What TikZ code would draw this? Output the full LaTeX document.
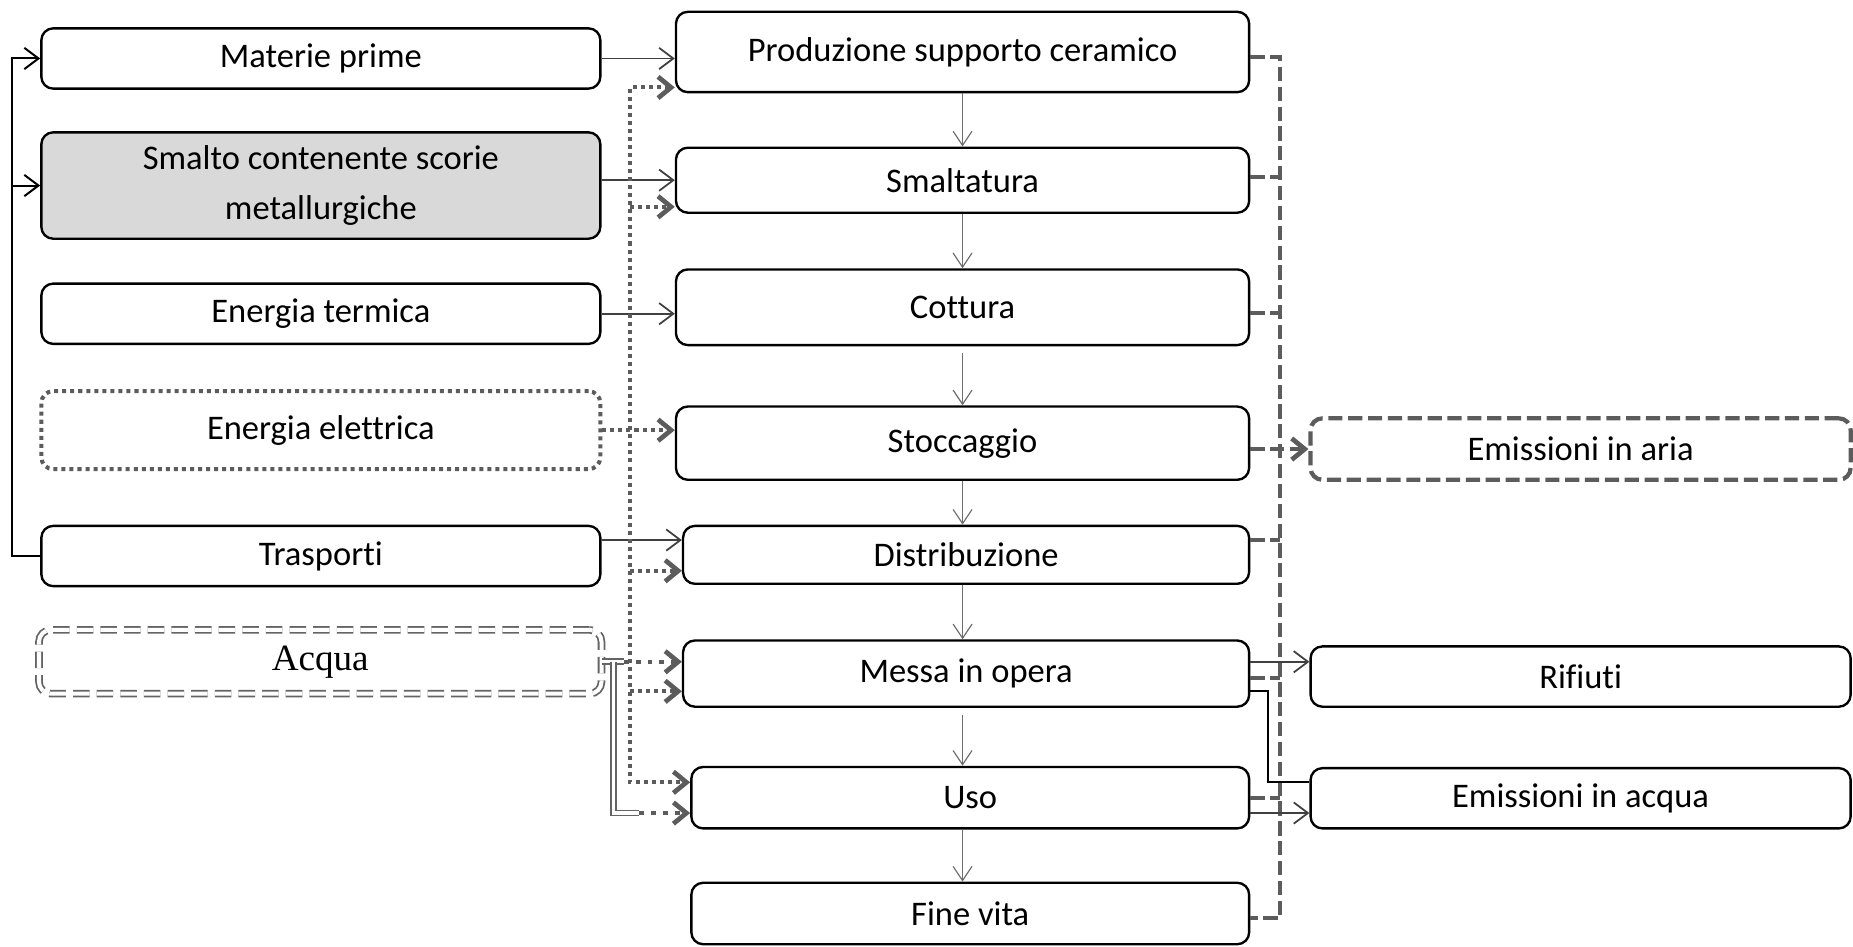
\documentclass[tikz,border=0pt]{standalone}
\usepackage{fontspec}
\setmainfont{Carlito}[Ligatures={NoCommon}]
\newfontfamily\serifacq{Liberation Serif}
\usetikzlibrary{arrows.meta}
\definecolor{lnG}{RGB}{92,92,92}
\definecolor{arG}{RGB}{64,64,64}
\definecolor{vaG}{RGB}{110,110,110}
\definecolor{fillG}{RGB}{217,217,217}
\definecolor{dbG}{RGB}{100,100,100}
\tikzset{
 box/.style={draw=black, line width=1pt, rounded corners=5pt, inner sep=0pt, align=center, font=\fontsize{14.6}{21}\selectfont},
 dotbox/.style={box, draw=lnG, line width=1.7pt, dash pattern=on 1.7pt off 1.7pt},
 dashbox/.style={box, draw=lnG, line width=1.8pt, dash pattern=on 6pt off 2.4pt},
 dblbox/.style={box, draw=dbG, line width=0.75pt, double=white, double distance=1.7pt, dash pattern=on 7pt off 3pt, font=\serifacq\fontsize{15.7}{19}\selectfont},
 thinarr/.style={draw=arG, line width=0.75pt, -{Straight Barb[length=6pt,width=9pt]}},
 bracket/.style={draw=black, line width=0.85pt},
 varr/.style={draw=vaG, line width=0.5pt, -{Straight Barb[length=6pt,width=8pt]}},
 thicktip/.style={>={Straight Barb[length=5.5pt,width=9pt,line width=2pt]}, ->},
 dotln/.style={draw=lnG, line width=1.7pt, dash pattern=on 1.7pt off 1.7pt},
 dashln/.style={draw=lnG, line width=1.8pt, dash pattern=on 6pt off 2.4pt},
 dblln/.style={draw=dbG, line width=0.75pt, double=white, double distance=1.4pt},
 acqtip/.style={draw=lnG, line width=1.6pt, dash pattern=on 2pt off 3pt, thicktip},
}
\begin{document}
\begin{tikzpicture}[x=0.5pt, y=-0.5pt]
\useasboundingbox (0,0) rectangle (1568,801);
% left column
\node[box, minimum width=236.5pt, minimum height=25.5pt] (mp) at (271.5,49.5) {Materie prime};
\node[box, fill=fillG, minimum width=236.5pt, minimum height=45pt] (sm) at (271.5,157) {Smalto contenente scorie\\metallurgiche};
\node[box, minimum width=236.5pt, minimum height=25.5pt] (et) at (271.5,265.5) {Energia termica};
\node[dotbox, minimum width=236.5pt, minimum height=33pt] (ee) at (271.5,364) {Energia elettrica};
\node[box, minimum width=236.5pt, minimum height=25.5pt] (tr) at (271.5,470.5) {Trasporti};
\node[dblbox, minimum width=238pt, minimum height=27pt] (acq) at (271,560) {Acqua};
% center column
\node[box, minimum width=242.5pt, minimum height=34pt] (prod) at (814.5,44) {Produzione supporto ceramico};
\node[box, minimum width=242.5pt, minimum height=27.5pt] (smal) at (814.5,152.5) {Smaltatura};
\node[box, minimum width=242.5pt, minimum height=32pt] (cott) at (814.5,260) {Cottura};
\node[box, minimum width=242.5pt, minimum height=31pt] (stoc) at (814.5,375) {Stoccaggio};
\node[box, minimum width=239.5pt, minimum height=24.5pt] (dist) at (817.5,469.5) {Distribuzione};
\node[box, minimum width=239.5pt, minimum height=28pt] (mess) at (817.5,570) {Messa in opera};
\node[box, minimum width=236pt, minimum height=26pt] (uso) at (821,675) {Uso};
\node[box, minimum width=236pt, minimum height=26pt] (fine) at (821,773) {Fine vita};
% right column
\node[dashbox, minimum width=228.5pt, minimum height=26pt] (aria) at (1337.5,380) {Emissioni in aria};
\node[box, minimum width=228.5pt, minimum height=25.5pt] (rif) at (1337.5,572.5) {Rifiuti};
\node[box, minimum width=228.5pt, minimum height=25.5pt] (eacq) at (1337.5,675.5) {Emissioni in acqua};
% helper coordinates
\coordinate (xL) at (10,0);
\coordinate (xD) at (533,0);
\coordinate (xE) at (1083,0);
\coordinate (xW) at (1073,0);
\coordinate (xA) at (519,0);
\coordinate (xM) at (528,0);
\coordinate (xU) at (541,0);
\coordinate (y48) at (0,48);
\coordinate (y74) at (0,74);
\coordinate (y150) at (0,150);
\coordinate (y175) at (0,175);
\coordinate (y265) at (0,265);
\coordinate (y457) at (0,457);
\coordinate (y483) at (0,483);
\coordinate (y560) at (0,560);
\coordinate (y574) at (0,574);
\coordinate (y585) at (0,585);
\coordinate (y662) at (0,662);
\coordinate (y688) at (0,688);
\coordinate (y777) at (0,777);
% left bracket
\draw[thinarr, draw=black, line width=0.85pt] (tr.west) -- (xL |- tr.west) -- (xL |- mp.west) -- (mp.west);
\draw[thinarr, draw=black, line width=0.85pt] (xL |- sm.west) -- (sm.west);
% solid inputs
\draw[thinarr] (mp.east) -- (prod.west |- mp.east);
\draw[thinarr] (sm.east |- smal.west) -- (smal.west);
\draw[thinarr] (et.east) -- (cott.west |- et.east);
\draw[thinarr] (tr.east |- y457) -- (dist.west |- y457);
% dotted electricity
\draw[dotln, >={Straight Barb[length=5.5pt,width=9pt,line width=2pt]}, <->] (prod.west |- y74) -- (xD |- y74) -- (xD |- y662) -- (uso.west |- y662);
\draw[dotln, thicktip] (xD |- y175) -- (smal.west |- y175);
\draw[dotln, thicktip] (ee.east) -- (stoc.west |- ee.east);
\draw[dotln, thicktip] (xD |- y483) -- (dist.west |- y483);
\draw[dotln, thicktip] (xD |- y585) -- (mess.west |- y585);
% water
\draw[dblln] (acq.east) -- (xM |- acq.east);
\draw[dblln] (xA |- acq.east) -- (xA |- y688) -- (xU |- y688);
\draw[acqtip] (xM |- acq.east) -- (mess.west |- acq.east);
\draw[acqtip] (xU |- y688) -- (uso.west |- y688);
% center vertical flow
\draw[varr] (prod.south) -- (prod.south |- smal.north);
\draw[varr] (prod.south |- smal.south) -- (prod.south |- cott.north);
\draw[varr, shorten <=3pt] (prod.south |- cott.south) -- (prod.south |- stoc.north);
\draw[varr] (prod.south |- stoc.south) -- (prod.south |- dist.north);
\draw[varr] (prod.south |- dist.south) -- (prod.south |- mess.north);
\draw[varr, shorten <=3pt] (prod.south |- mess.south) -- (prod.south |- uso.north);
\draw[varr] (prod.south |- uso.south) -- (prod.south |- fine.north);
% emissions to air bus
\draw[dashln] (prod.east |- y48) -- (xE |- y48) -- (xE |- y777) -- (fine.east |- y777);
\draw[dashln] (smal.east |- y150) -- (xE |- y150);
\draw[dashln] (cott.east |- y265) -- (xE |- y265);
\draw[dashln] (dist.east |- y457) -- (xE |- y457);
\draw[dashln] (mess.east |- y574) -- (xE |- y574);
\draw[dashln] (uso.east) -- (xE |- uso.east);
\draw[dashln, thicktip] (stoc.east |- aria.west) -- (aria.west);
% right solid outputs
\draw[thinarr] (mess.east |- y560) -- (rif.west |- y560);
\draw[bracket] (mess.east |- y585) -- (xW |- y585) -- (xW |- y662) -- (eacq.west |- y662);
\draw[thinarr] (uso.east |- y688) -- (eacq.west |- y688);
\end{tikzpicture}
\end{document}
